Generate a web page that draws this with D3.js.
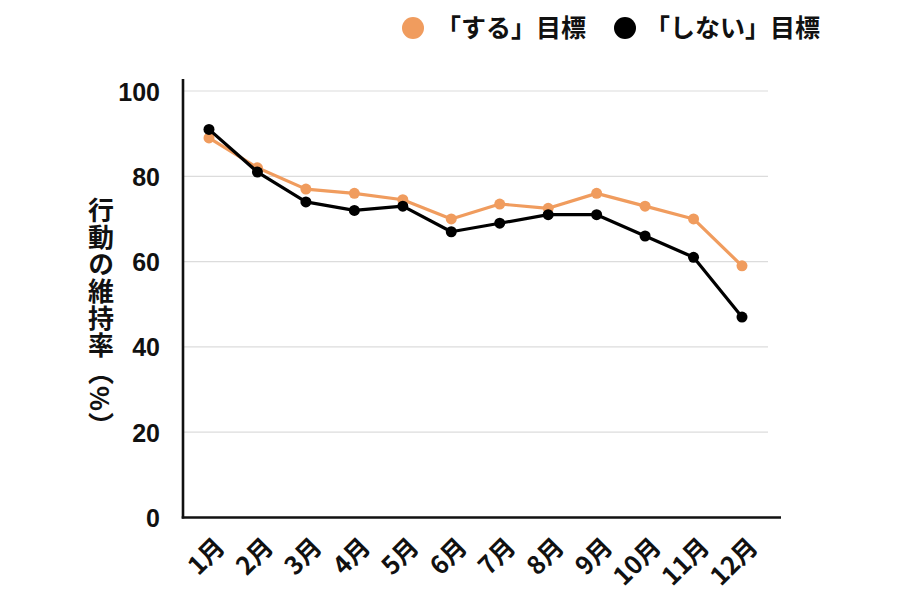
<!DOCTYPE html>
<html><head><meta charset="utf-8">
<script src="https://cdn.jsdelivr.net/npm/d3@7"></script>
<style>
html,body{margin:0;padding:0;background:#fff;}
text{font-family:"Noto Sans CJK JP","Liberation Sans",sans-serif;font-weight:bold;fill:#111;}
</style></head>
<body><svg id="c" width="898" height="600"></svg>
<script>
const months = ["1月","2月","3月","4月","5月","6月","7月","8月","9月","10月","11月","12月"];
const doValues = [89,82,77,76,74.5,70,73.5,72.5,76,73,70,59];
const dontValues = [91,81,74,72,73,67,69,71,71,66,61,47];
const yTicks = [0,20,40,60,80,100];
const seriesNames = ["「する」目標","「しない」目標"];
const yLabel = "行動の維持率（%）";

const orange = "#F09C5E", black = "#000";
const svg = d3.select("#c");
const x = d3.scalePoint().domain(months).range([209,742]);
const y = d3.scaleLinear().domain([0,100]).range([517.5,91]);

// gridlines
svg.append("g").selectAll("line").data(yTicks.filter(d=>d>0)).join("line")
  .attr("x1",183).attr("x2",768).attr("y1",d=>y(d)).attr("y2",d=>y(d))
  .attr("stroke","#dcdcdc").attr("stroke-width",1.2);

// y axis
const ya = svg.append("g").attr("transform","translate(183,0)")
  .call(d3.axisLeft(y).tickValues(yTicks).tickSize(0).tickPadding(23));
ya.select(".domain").remove();
ya.selectAll("text").attr("font-size",25).style("font-family","'Liberation Sans',Arial,sans-serif").attr("dy","0.36em");
svg.append("line").attr("x1",183).attr("x2",183).attr("y1",79).attr("y2",518.5)
  .attr("stroke","#111").attr("stroke-width",2.6);

// x axis
svg.append("line").attr("x1",181.7).attr("x2",781).attr("y1",517.5).attr("y2",517.5)
  .attr("stroke","#111").attr("stroke-width",2.6);
const xa = svg.append("g").attr("transform","translate(0,517.5)")
  .call(d3.axisBottom(x).tickSize(0).tickPadding(0));
xa.select(".domain").remove();
xa.selectAll("text")
  .attr("font-size",25)
  .attr("text-anchor","end")
  .attr("dy",0)
  .attr("y",0)
  .attr("transform","translate(17,31) rotate(-45)");

// y label
svg.append("text").attr("x",101).attr("y",197)
  .attr("writing-mode","vertical-rl")
  .attr("font-size",26)
  .attr("letter-spacing",1)
  .text(yLabel);

// lines
const line = d3.line().x((d,i)=>x(months[i])).y(d=>y(d));
const series = [{vals:doValues,color:orange},{vals:dontValues,color:black}];
series.forEach(s=>{
  svg.append("path").datum(s.vals).attr("d",line).attr("fill","none")
    .attr("stroke",s.color).attr("stroke-width",3.2).attr("stroke-linejoin","round");
  svg.append("g").selectAll("circle").data(s.vals).join("circle")
    .attr("cx",(d,i)=>x(months[i])).attr("cy",d=>y(d)).attr("r",5.5).attr("fill",s.color);
});

// legend
const leg = [{name:seriesNames[0],color:orange,cx:413,tx:436},{name:seriesNames[1],color:black,cx:625,tx:645}];
leg.forEach(l=>{
  svg.append("circle").attr("cx",l.cx).attr("cy",28).attr("r",11).attr("fill",l.color);
  svg.append("text").attr("x",l.tx).attr("y",28).attr("dy","0.36em").attr("font-size",25).text(l.name);
});
</script></body></html>
